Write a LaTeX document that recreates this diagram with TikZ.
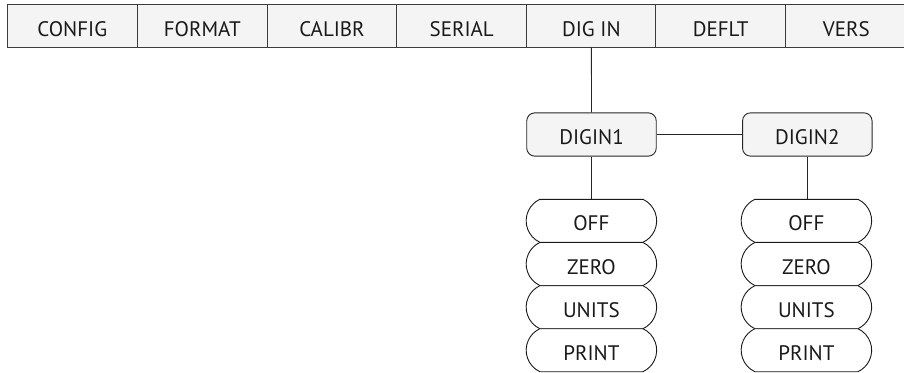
\documentclass[tikz,border=0pt]{standalone}
\usepackage{fontspec}
\setmainfont{PT Sans}
\usetikzlibrary{shapes.misc}
\definecolor{cellfill}{HTML}{F4F4F4}
\definecolor{celldraw}{HTML}{3C3C3C}
\begin{document}
\begin{tikzpicture}[x=1pt,y=-1pt,
  every node/.style={font=\fontsize{21}{23}\selectfont, text=black!90, inner sep=0pt, text height=20.3pt, text depth=0pt},
  cell/.style={draw=celldraw, fill=cellfill, line width=1.1pt, minimum height=42.3pt, minimum width=129.6pt},
  menubox/.style={draw=black!85, fill=cellfill, line width=0.9pt, rounded corners=8pt, minimum height=43.3pt, minimum width=129.5pt},
  pill/.style={draw=black!90, fill=white, line width=0.9pt, shape=rounded rectangle, rounded rectangle arc length=130, minimum height=43pt, minimum width=130.5pt},
  conn/.style={draw=black!85, line width=0.9pt}]
\useasboundingbox (0,0) rectangle (904,372);
\node[cell] (config) at (72.3,25.9) {CONFIG};
\node[cell] (format) at (202.3,25.9) {FORMAT};
\node[cell] (calibr) at (332.0,25.9) {CALIBR};
\node[cell] (serial) at (461.7,25.9) {SERIAL};
\node[cell] (digin) at (591.4,25.9) {DIG IN};
\node[cell] (deflt) at (720.7,25.9) {DEFLT};
\node[cell, minimum width=122pt] (vers) at (846.3,25.9) {VERS};

\node[menubox] (dg1) at (591.5,134.5) {DIGIN1};
\node[menubox] (dg2) at (807.3,134.5) {DIGIN2};

\node[pill] (off1) at (591.4,220.8) {OFF};
\node[pill] (zero1) at (591.4,264.0) {ZERO};
\node[pill] (units1) at (591.4,307.2) {UNITS};
\node[pill] (print1) at (591.4,350.2) {PRINT};
\node[pill] (off2) at (806.4,220.8) {OFF};
\node[pill] (zero2) at (806.4,264.0) {ZERO};
\node[pill] (units2) at (806.4,307.2) {UNITS};
\node[pill] (print2) at (806.4,350.2) {PRINT};

\draw[conn] (digin.south) -- (dg1.north);
\draw[conn] (dg1.east) -- (dg2.west);
\draw[conn] (dg1.south) -- (dg1.south |- off1.north);
\draw[conn] (dg2.south) -- (dg2.south |- off2.north);
\end{tikzpicture}
\end{document}
